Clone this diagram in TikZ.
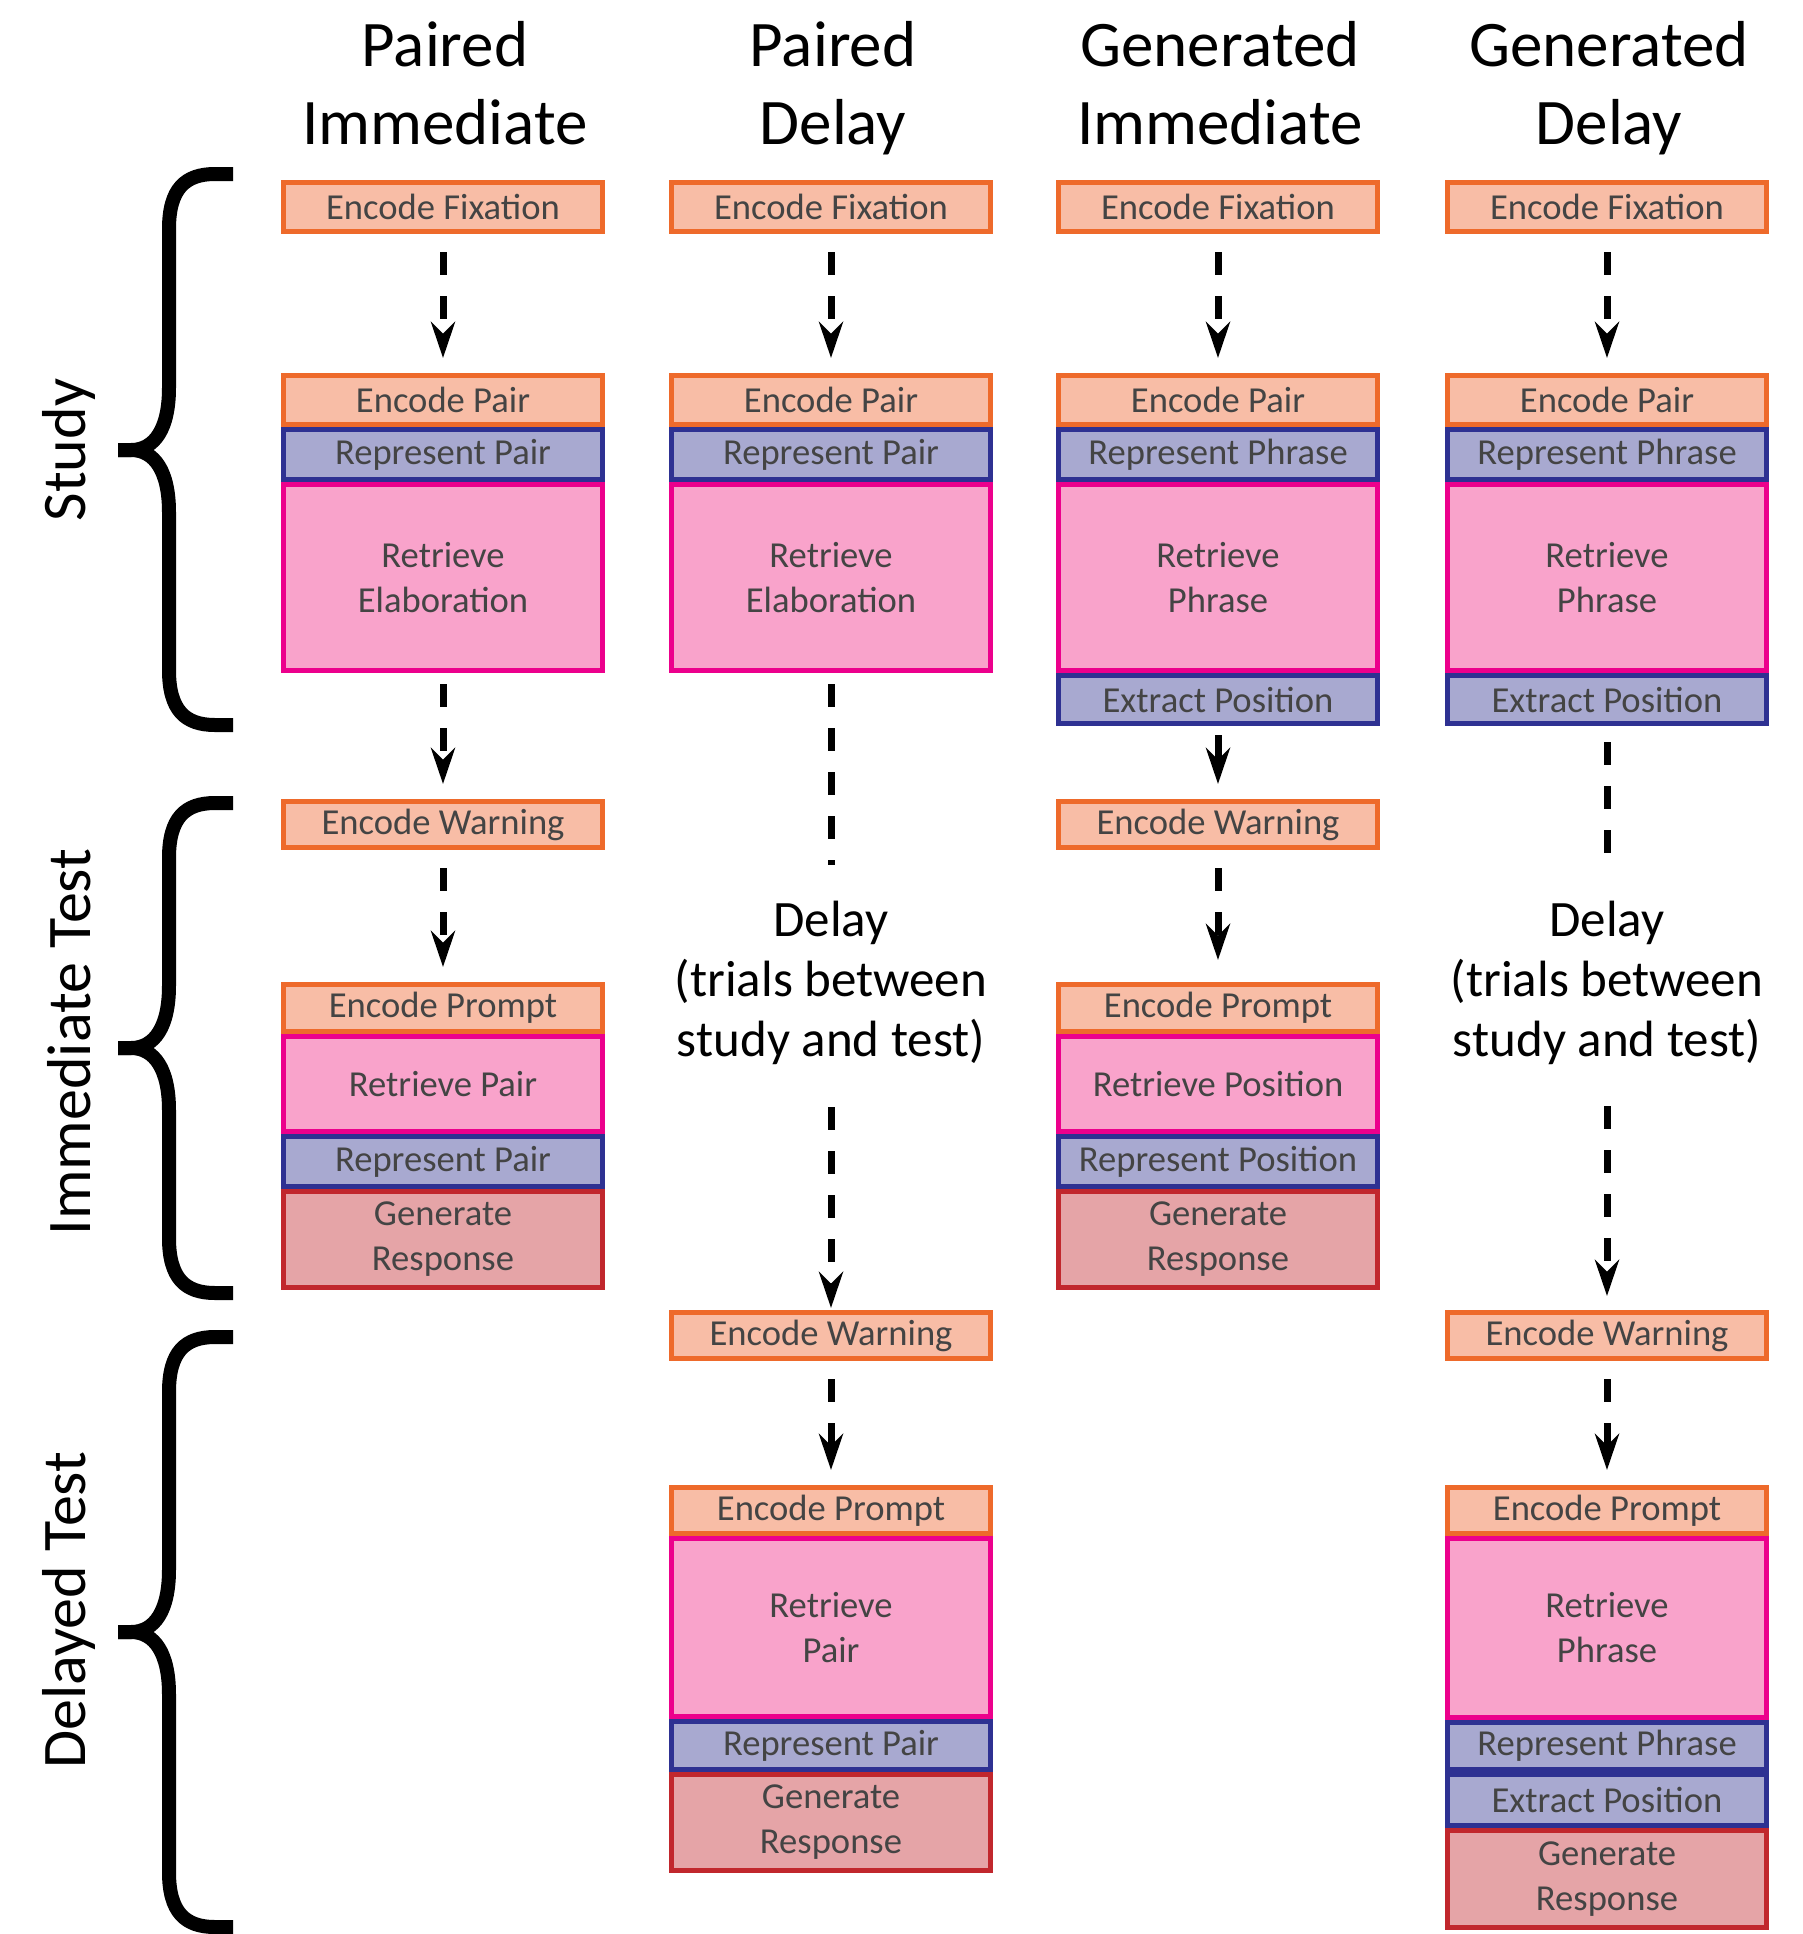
\documentclass[tikz,border=0pt]{standalone}
\usepackage{fontspec}
\setmainfont{Carlito}
\usetikzlibrary{arrows.meta}

\definecolor{encL}{HTML}{F8BDA6}
\definecolor{encD}{HTML}{EE6A2B}
\definecolor{repL}{HTML}{A8A9D0}
\definecolor{repD}{HTML}{2E3192}
\definecolor{retL}{HTML}{F9A3CB}
\definecolor{retD}{HTML}{EC008C}
\definecolor{genL}{HTML}{E5A4A7}
\definecolor{genD}{HTML}{C1272D}
\definecolor{boxtext}{HTML}{444444}

% stage box: style, name, centre x, outer top, outer bottom, label
\newcommand\stagebox[6]{%
  \node[#1, minimum height={(#5-#4-5)*0.5pt}] (#2) at (#3,{(#4+#5)/2}) {#6};}

% curly brace opening to the right: top y, bottom y, tip y
\newcommand\phasebrace[3]{%
  \draw[bracestroke] (233,#1) -- (215,#1)
      .. controls (185,#1) and (169,{#1+15}) .. (169,{#1+55})
      -- (169,{#3-62})
      .. controls (169,{#3-22}) and (155,#3) .. (131,#3) -- (118,#3);
  \draw[bracestroke] (233,#2) -- (215,#2)
      .. controls (185,#2) and (169,{#2-15}) .. (169,{#2-55})
      -- (169,{#3+62})
      .. controls (169,{#3+22}) and (155,#3) .. (131,#3) -- (118,#3);}

\begin{document}
\begin{tikzpicture}[x=0.5pt,y=-0.5pt,
  stage/.style={draw, line width=2.5pt, inner sep=0pt, minimum width=159.5pt,
    align=center, text=boxtext, font=\fontsize{18.3}{22.5}\selectfont},
  encbox/.style={stage, draw=encD, fill=encL},
  repbox/.style={stage, draw=repD, fill=repL},
  retbox/.style={stage, draw=retD, fill=retL},
  genbox/.style={stage, draw=genD, fill=genL},
  flow/.style={line width=3.5pt, dash pattern=on 11.5pt off 10.5pt,
    -{Stealth[length=18pt,width=12pt]}, shorten <=9pt, shorten >=7.5pt},
  solidflow/.style={line width=3.5pt, -{Stealth[length=18pt,width=12pt]},
    shorten <=4.5pt, shorten >=7.5pt},
  waitline/.style={line width=3.5pt, dash pattern=on 11.5pt off 10.5pt},
  header/.style={anchor=north, align=center, inner sep=0pt,
    font=\fontsize{32.5}{39}\selectfont},
  delaytext/.style={align=center, inner sep=0pt, font=\fontsize{25.5}{30}\selectfont},
  phase/.style={rotate=90, inner sep=0pt, font=\fontsize{31}{39}\selectfont},
  bracestroke/.style={line width=7pt, line cap=butt, line join=round},
]
\useasboundingbox (0,0) rectangle (1803,1934);

% column headers
\node[header] (h1) at (445,21) {Paired\\Immediate};
\node[header] (h2) at (833,21) {Paired\\Delay};
\node[header] (h3) at (1220,21) {Generated\\Immediate};
\node[header] (h4) at (1609,21) {Generated\\Delay};

% phase labels and braces
\node[phase] (pStudy) at (69,450) {Study};
\node[phase] (pImm) at (69,1042) {Immediate Test};
\node[phase] (pDel) at (69,1610) {Delayed Test};
\phasebrace{174}{725}{450}
\phasebrace{803}{1293}{1048}
\phasebrace{1337}{1927}{1632}

% Paired Immediate
\stagebox{encbox}{a1}{443}{180}{234}{Encode Fixation}
\stagebox{encbox}{a2}{443}{373}{427}{Encode Pair}
\stagebox{repbox}{a3}{443}{427}{482}{Represent Pair}
\stagebox{retbox}{a4}{443}{482}{673}{Retrieve\\Elaboration}
\stagebox{encbox}{a5}{443}{799}{850}{Encode Warning}
\stagebox{encbox}{a6}{443}{982}{1034}{Encode Prompt}
\stagebox{retbox}{a7}{443}{1034}{1134}{Retrieve Pair}
\stagebox{repbox}{a8}{443}{1134}{1189}{Represent Pair}
\stagebox{genbox}{a9}{443}{1189}{1290}{Generate\\Response}
\draw[flow] (a1) -- (a2);
\draw[flow, shorten <=5.5pt] (a4) -- (a5);
\draw[flow] (a5) -- (a6);

% Paired Delay
\stagebox{encbox}{b1}{831}{180}{234}{Encode Fixation}
\stagebox{encbox}{b2}{831}{373}{427}{Encode Pair}
\stagebox{repbox}{b3}{831}{427}{482}{Represent Pair}
\stagebox{retbox}{b4}{831}{482}{673}{Retrieve\\Elaboration}
\node[delaytext] (bDelay) at (831,983) {Delay\\(trials between\\study and test)};
\coordinate (bw1) at (831,865);
\coordinate (bw2) at (831,1107);
\stagebox{encbox}{b5}{831}{1310}{1361}{Encode Warning}
\stagebox{encbox}{b6}{831}{1485}{1536}{Encode Prompt}
\stagebox{retbox}{b7}{831}{1536}{1719}{Retrieve\\Pair}
\stagebox{repbox}{b8}{831}{1719}{1772}{Represent Pair}
\stagebox{genbox}{b9}{831}{1772}{1873}{Generate\\Response}
\draw[flow] (b1) -- (b2);
\draw[waitline, shorten <=5.5pt] (b4) -- (bw1);
\draw[flow, shorten <=0pt, shorten >=1pt] (bw2) -- (b5);
\draw[flow] (b5) -- (b6);

% Generated Immediate
\stagebox{encbox}{c1}{1218}{180}{234}{Encode Fixation}
\stagebox{encbox}{c2}{1218}{373}{427}{Encode Pair}
\stagebox{repbox}{c3}{1218}{427}{482}{Represent Phrase}
\stagebox{retbox}{c4}{1218}{482}{673}{Retrieve\\Phrase}
\stagebox{repbox}{c5}{1218}{673}{726}{Extract Position}
\stagebox{encbox}{c6}{1218}{799}{850}{Encode Warning}
\stagebox{encbox}{c7}{1218}{982}{1034}{Encode Prompt}
\stagebox{retbox}{c8}{1218}{1034}{1134}{Retrieve Position}
\stagebox{repbox}{c9}{1218}{1134}{1189}{Represent Position}
\stagebox{genbox}{c10}{1218}{1189}{1290}{Generate\\Response}
\draw[flow] (c1) -- (c2);
\draw[solidflow] (c5) -- (c6);
\draw[flow, shorten >=11pt] (c6) -- (c7);

% Generated Delay
\stagebox{encbox}{d1}{1607}{180}{234}{Encode Fixation}
\stagebox{encbox}{d2}{1607}{373}{427}{Encode Pair}
\stagebox{repbox}{d3}{1607}{427}{482}{Represent Phrase}
\stagebox{retbox}{d4}{1607}{482}{673}{Retrieve\\Phrase}
\stagebox{repbox}{d5}{1607}{673}{726}{Extract Position}
\node[delaytext] (dDelay) at (1607,983) {Delay\\(trials between\\study and test)};
\coordinate (dw1) at (1607,856);
\coordinate (dw2) at (1607,1106);
\stagebox{encbox}{d6}{1607}{1310}{1361}{Encode Warning}
\stagebox{encbox}{d7}{1607}{1485}{1536}{Encode Prompt}
\stagebox{retbox}{d8}{1607}{1536}{1720}{Retrieve\\Phrase}
\stagebox{repbox}{d9}{1607}{1720}{1772}{Represent Phrase}
\stagebox{repbox}{d10}{1607}{1772}{1828}{Extract Position}
\stagebox{genbox}{d11}{1607}{1828}{1930}{Generate\\Response}
\draw[flow] (d1) -- (d2);
\draw[waitline, shorten <=8pt] (d5) -- (dw1);
\draw[flow, shorten <=0pt, shorten >=7pt] (dw2) -- (d6);
\draw[flow] (d6) -- (d7);
\end{tikzpicture}
\end{document}
